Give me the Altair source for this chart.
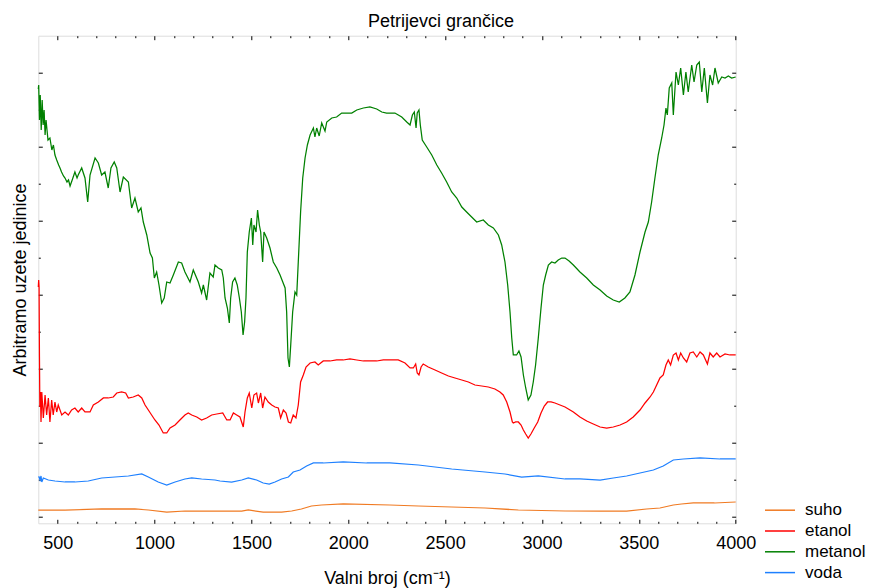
import altair as alt
import pandas as pd

FONT = "Liberation Sans"
FS = 18

series_names = ["suho", "etanol", "metanol", "voda"]
series_colors = ["#F07A22", "#FF0000", "#008000", "#1E80FF"]

# wavenumber (cm^-1) and arbitrary intensity
suho_x = [400, 538, 727, 899, 968, 1063, 1157, 1312, 1450, 1484, 1561, 1656, 1708, 1758, 1810,
          1862, 1974, 2215, 2362, 2534, 2706, 2878, 3119, 3300, 3437, 3540, 3609, 3678, 3720,
          3781, 3890, 4000]
suho_y = [7, 7, 8, 8, 7, 5, 6, 6, 6, 7, 5, 5, 6, 8, 11,
          12, 13, 12, 11, 10, 9, 7, 6, 6, 6, 8, 9, 12, 13,
          14, 14, 15]

etanol_x = [400, 402, 404, 406, 408, 411, 414, 418, 426, 435, 443, 452, 460, 469, 477, 486, 495,
            503, 521, 538, 555, 572, 589, 606, 624, 641, 667, 684, 710, 736, 761, 787, 805, 830,
            851, 865, 890, 916, 934, 951, 968, 985, 1002, 1023, 1045, 1063, 1080, 1106, 1131,
            1157, 1174, 1192, 1218, 1243, 1269, 1295, 1321, 1352, 1373, 1390, 1407, 1424, 1441,
            1458, 1467, 1479, 1489, 1502, 1513, 1527, 1536, 1548, 1558, 1570, 1587, 1605, 1622,
            1639, 1651, 1665, 1679, 1691, 1703, 1716, 1730, 1742, 1754, 1768, 1782, 1803, 1828,
            1845, 1871, 1906, 1940, 1974, 2009, 2044, 2078, 2112, 2147, 2181, 2215, 2258, 2293,
            2319, 2336, 2348, 2356, 2365, 2376, 2387, 2413, 2448, 2482, 2517, 2551, 2586, 2620,
            2654, 2689, 2723, 2757, 2783, 2800, 2818, 2835, 2847, 2852, 2864, 2878, 2892, 2904,
            2916, 2929, 2943, 2960, 2978, 2995, 3012, 3029, 3047, 3067, 3093, 3119, 3162, 3196,
            3231, 3265, 3300, 3334, 3368, 3403, 3437, 3471, 3506, 3532, 3558, 3575, 3592, 3609,
            3626, 3640, 3652, 3664, 3678, 3692, 3704, 3716, 3730, 3747, 3764, 3781, 3799, 3816,
            3833, 3854, 3867, 3884, 3902, 3919, 3945, 3970, 4000]
etanol_y = [230, 237, 230, 160, 110, 125, 95, 125, 99, 122, 102, 119, 95, 117, 102, 115, 105,
            112, 102, 105, 102, 107, 109, 105, 109, 105, 105, 112, 115, 119, 119, 120, 124, 125,
            124, 119, 120, 122, 119, 112, 107, 102, 97, 92, 84, 84, 89, 92, 97,
            102, 104, 102, 100, 97, 99, 102, 103, 104, 97, 97, 104, 102, 100,
            90, 105, 119, 124, 109, 122, 124, 114, 124, 109, 120, 115, 112, 110,
            109, 99, 107, 104, 95, 94, 102, 99, 112, 135, 142, 150, 154, 155,
            152, 156, 156, 157, 157, 158, 157, 156, 156, 156, 157, 157, 157, 154,
            149, 149, 153, 144, 142, 150, 153, 150, 147, 144, 141, 139, 137, 135,
            132, 131, 130, 128, 125, 122, 115, 105, 95, 94, 95, 95, 92, 87,
            83, 79, 83, 89, 95, 104, 111, 115, 115, 114, 112, 110, 105, 100,
            96, 93, 90, 89, 90, 92, 95, 100, 107, 114, 120, 125, 132, 139,
            142, 152, 157, 152, 162, 164, 157, 164, 159, 155, 164, 165, 160, 165,
            162, 153, 164, 160, 164, 160, 163, 162, 162]

metanol_x = [400, 402, 406, 410, 415, 420, 425, 430, 435, 440, 450, 460, 470, 478, 486, 495, 505,
             512, 520, 530, 538, 548, 556, 564, 575, 589, 600, 606, 624, 641, 655, 667, 693, 710,
             727, 744, 761, 775, 792, 805, 822, 839, 865, 882, 899, 916, 930, 942, 960, 977, 989,
             999, 1011, 1023, 1037, 1050, 1063, 1080, 1097, 1123, 1140, 1157, 1183, 1200, 1226,
             1243, 1252, 1269, 1286, 1303, 1312, 1329, 1347, 1355, 1364, 1376, 1386, 1393, 1403,
             1415, 1427, 1438, 1448, 1457, 1465, 1472, 1479, 1489, 1500, 1507, 1513, 1524, 1532,
             1541, 1548, 1558, 1565, 1579, 1596, 1613, 1631, 1648, 1662, 1674, 1682, 1689, 1696,
             1703, 1713, 1725, 1734, 1742, 1754, 1765, 1777, 1789, 1803, 1820, 1828, 1837, 1850,
             1863, 1880, 1889, 1915, 1940, 1966, 1992, 2018, 2044, 2078, 2112, 2147, 2173, 2198,
             2215, 2241, 2276, 2302, 2319, 2331, 2341, 2350, 2356, 2365, 2372, 2382, 2405, 2431,
             2457, 2482, 2508, 2534, 2560, 2586, 2611, 2637, 2663, 2697, 2723, 2749, 2775, 2792,
             2809, 2823, 2835, 2844, 2852, 2869, 2881, 2892, 2904, 2916, 2929, 2943, 2955, 2967,
             2981, 2995, 3007, 3019, 3033, 3050, 3067, 3084, 3102, 3119, 3140, 3162, 3196, 3231,
             3265, 3300, 3334, 3368, 3399, 3428, 3454, 3480, 3506, 3532, 3549, 3566, 3583, 3600,
             3618, 3630, 3640, 3647, 3657, 3670, 3678, 3692, 3704, 3716, 3730, 3743, 3755, 3773,
             3785, 3799, 3812, 3825, 3838, 3854, 3867, 3881, 3893, 3910, 3928, 3945, 3962, 3979,
             4000]
metanol_y = [428, 432, 397, 422, 387, 417, 392, 407, 382, 397, 377, 379, 367, 372, 362, 357, 352,
             349, 345, 341, 339, 335, 337, 331, 337, 345, 339, 342, 349, 339, 315, 342, 359, 354,
             342, 345, 329, 349, 355, 349, 325, 340, 335, 309, 319, 305, 309, 295, 282, 264, 259,
             239, 245, 232, 214, 219, 235, 234, 242, 255, 254, 245, 235, 247, 235,
             224, 232, 217, 244, 240, 252, 249, 247, 239, 219, 209, 194, 219, 235,
             239, 232, 219, 205, 182, 195, 219, 265, 285, 299, 272, 292, 285, 307,
             292, 285, 255, 285, 279, 269, 255, 249, 242, 235, 229, 205, 159, 150,
             172, 205, 225, 222, 255, 305, 339, 359, 372, 382, 389, 380, 389, 381,
             394, 386, 395, 399, 400, 404, 404, 404, 407, 409, 410, 408, 405, 404,
             404, 404, 400, 395, 392, 402, 405, 389, 404, 407, 392, 377, 370, 362,
             352, 344, 335, 325, 319, 310, 305, 300, 295, 297, 292, 289, 282, 272,
             255, 232, 205, 179, 162, 162, 166, 160, 142, 129, 117, 122, 135, 152,
             179, 209, 232, 242, 252, 255, 254, 257, 259, 259, 256, 252, 245, 239,
             232, 227, 221, 217, 215, 219, 225, 242, 265, 285, 295, 315, 339, 362,
             379, 392, 409, 402, 429, 434, 402, 445, 432, 449, 422, 445, 425, 452,
             435, 452, 455, 425, 449, 414, 442, 432, 449, 434, 440, 439, 441, 439,
             440]

voda_x = [400, 404, 409, 414, 418, 426, 452, 486, 538, 589, 658, 727, 796, 865, 934, 968, 1019,
          1063, 1106, 1157, 1192, 1243, 1312, 1338, 1398, 1450, 1484, 1527, 1561, 1592, 1622,
          1656, 1691, 1716, 1751, 1785, 1820, 1871, 1974, 2095, 2215, 2362, 2534, 2706, 2809,
          2895, 2981, 3119, 3196, 3300, 3368, 3437, 3506, 3575, 3626, 3678, 3730, 3816, 3919,
          4000]
voda_y = [40, 40, 37, 41, 35, 39, 37, 36, 35, 35, 36, 39, 40, 41, 43, 40, 35,
          32, 35, 38, 39, 38, 37, 36, 35, 37, 39, 37, 34, 33, 35,
          38, 40, 45, 47, 51, 54, 54, 55, 54, 54, 52, 48, 45, 43,
          40, 41, 38, 38, 37, 39, 41, 44, 47, 51, 57, 58, 59, 58,
          58]

x_major = [500, 1000, 1500, 2000, 2500, 3000, 3500, 4000]
x_minor = [600, 700, 800, 900, 1100, 1200, 1300, 1400, 1600, 1700, 1800, 1900, 2100, 2200,
           2300, 2400, 2600, 2700, 2800, 2900, 3100, 3200, 3300, 3400, 3600, 3700, 3800, 3900]
y_major = [0, 74, 148, 222, 296, 370, 444]
y_minor = [37, 111, 185, 259, 333, 407]

rows = []
for name, xs, ys in [("suho", suho_x, suho_y), ("etanol", etanol_x, etanol_y),
                     ("metanol", metanol_x, metanol_y), ("voda", voda_x, voda_y)]:
    for xv, yv in zip(xs, ys):
        rows.append({"series": name, "wn": xv, "val": yv})
df = pd.DataFrame(rows)

xscale = alt.Scale(domain=[400, 4000], nice=False, zero=False)
yscale = alt.Scale(domain=[-6.3, 481.3], nice=False, zero=False)


def tick_axis(orient, values, size):
    return alt.Axis(orient=orient, values=values, tickSize=size, offset=-size, domain=False,
                    grid=False, labels=False, ticks=True, tickColor="black", tickWidth=1,
                    title=None)


lines = alt.Chart(df).mark_line(strokeWidth=1.25).encode(
    x=alt.X("wn:Q", scale=xscale,
            axis=alt.Axis(orient="bottom", values=x_major, tickSize=4, offset=-4, domain=False,
                          grid=False, tickColor="black", format="d", labelFont=FONT,
                          labelFontSize=FS, labelColor="black", labelPadding=25,
                          labelBaseline="alphabetic", labelFlush=False, labelOverlap=False,
                          title="Valni broj (cm⁻¹)", titleFont=FONT, titleFontSize=FS,
                          titleFontWeight="normal", titleColor="black", titleY=64,
                          titleBaseline="alphabetic")),
    y=alt.Y("val:Q", scale=yscale,
            axis=alt.Axis(orient="left", values=y_major, tickSize=4, offset=-4, domain=False,
                          grid=False, tickColor="black", labels=False,
                          title="Arbitramo uzete jedinice", titleFont=FONT, titleFontSize=FS,
                          titleFontWeight="normal", titleColor="black", titleAngle=270,
                          titleX=-17.3, titleBaseline="alphabetic")),
    color=alt.Color("series:N", scale=alt.Scale(domain=series_names, range=series_colors),
                    legend=alt.Legend(title=None, orient="none", legendX=730.7, legendY=463.5,
                                      direction="vertical", symbolType="M-1.5,0L1.5,0",
                                      symbolSize=400, symbolStrokeWidth=1.5,
                                      labelFont=FONT, labelFontSize=17, labelColor="black",
                                      labelOffset=14, rowPadding=1.8, padding=0,
                                      labelLimit=200)),
)

l2 = alt.Chart(df).mark_line(strokeOpacity=0).encode(
    x=alt.X("wn:Q", scale=xscale, axis=tick_axis("bottom", x_minor, 2)),
    y=alt.Y("val:Q", scale=yscale, axis=tick_axis("left", y_minor, 2)),
)
l3 = alt.Chart(df).mark_line(strokeOpacity=0).encode(
    x=alt.X("wn:Q", scale=xscale, axis=tick_axis("top", x_major, 4)),
    y=alt.Y("val:Q", scale=yscale, axis=tick_axis("right", y_major, 4)),
)
l4 = alt.Chart(df).mark_line(strokeOpacity=0).encode(
    x=alt.X("wn:Q", scale=xscale, axis=tick_axis("top", x_minor, 2)),
    y=alt.Y("val:Q", scale=yscale, axis=tick_axis("right", y_minor, 2)),
)

chart = alt.layer(lines, l2, l3, l4).resolve_axis(
    x="independent", y="independent"
).properties(
    width=697.4,
    height=487.6,
    padding={"left": 30.3, "top": 27.7, "right": 131.3, "bottom": 64.7},
    autosize=alt.AutoSizeParams(type="none"),
    title=alt.TitleParams("Petrijevci grančice", font=FONT, fontSize=FS, fontWeight="normal",
                          color="black", anchor="middle", dx=54, dy=20, offset=10,
                          baseline="alphabetic"),
).configure_view(
    stroke="black", strokeWidth=1
).configure(background="white")

chart.save("out.html", embed_options={"renderer": "svg", "actions": False})
